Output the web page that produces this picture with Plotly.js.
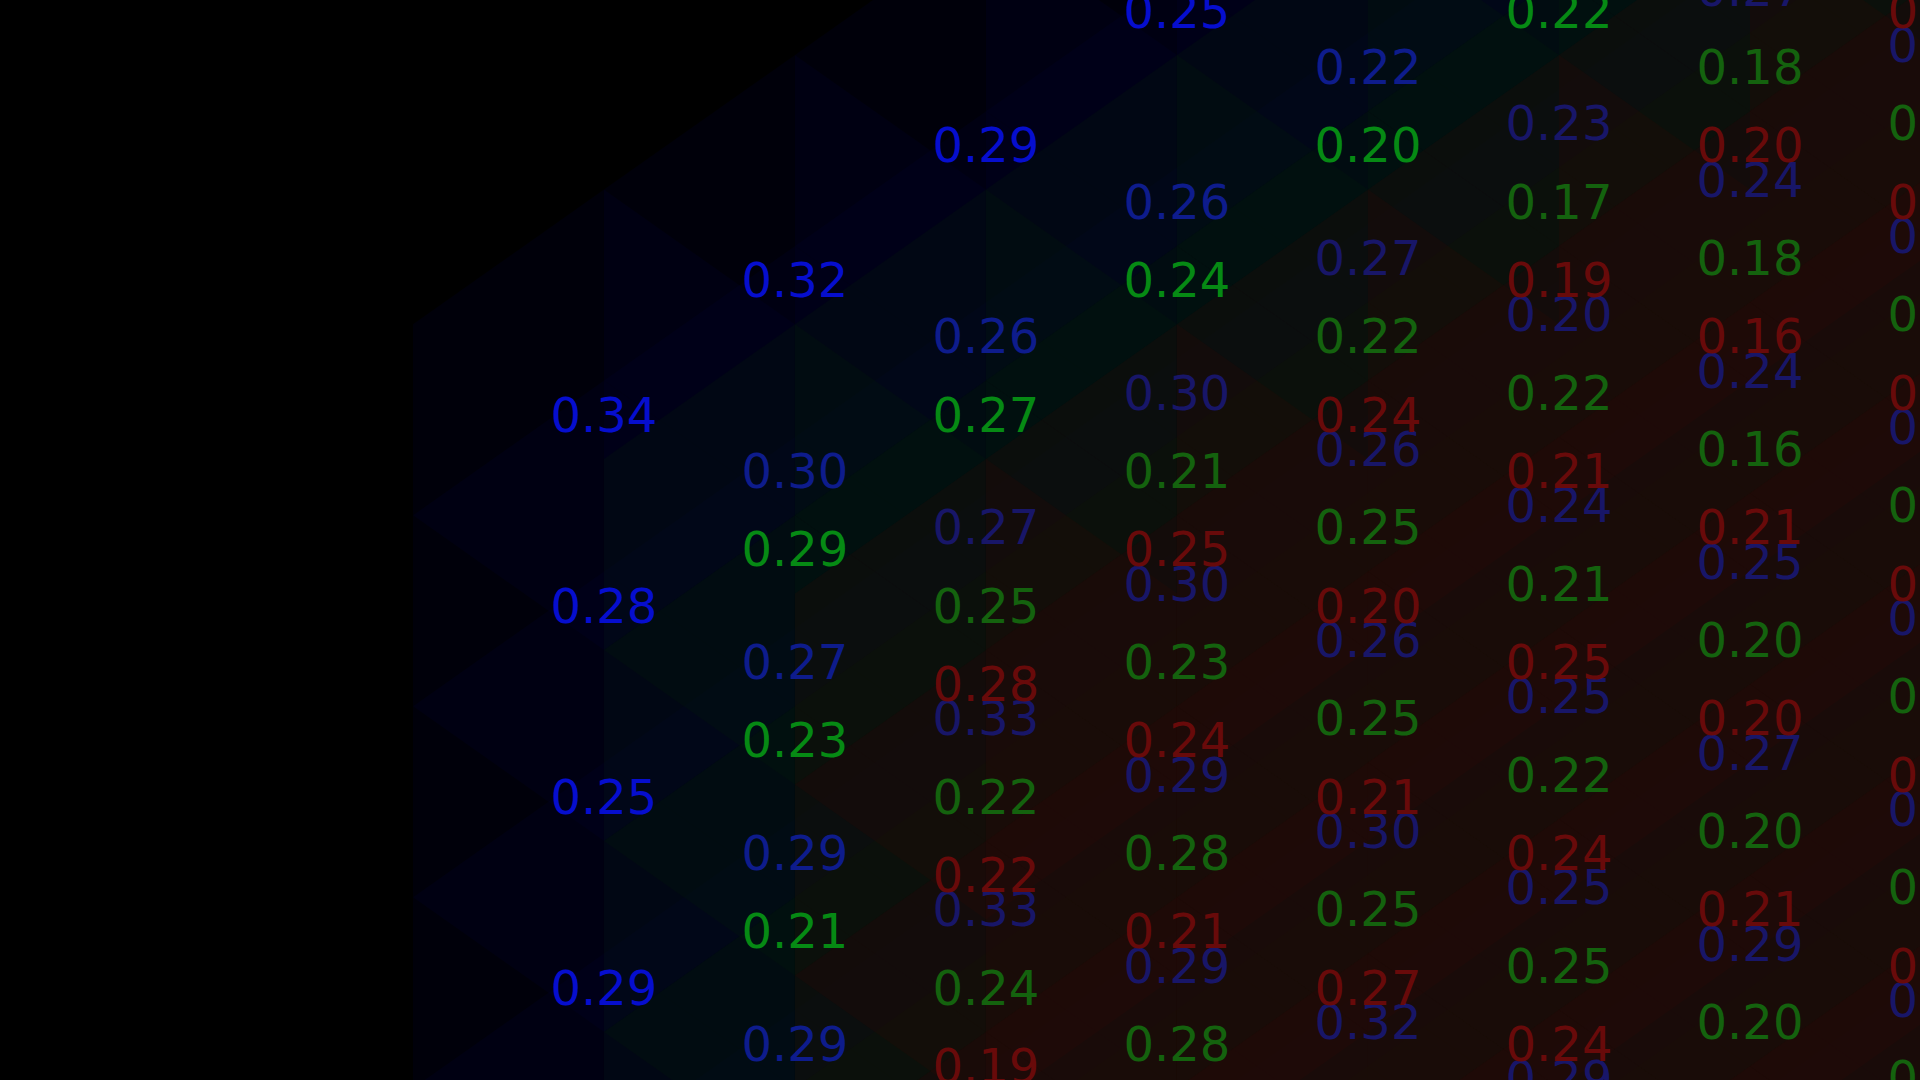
<!DOCTYPE html>
<html>
<head>
<meta charset="utf-8">
<script src="https://cdn.plot.ly/plotly-3.0.1.min.js"></script>
<style>
html, body { margin: 0; padding: 0; background: #000; overflow: hidden; }
#chart { width: 1920px; height: 1080px; }
</style>
</head>
<body>
<div id="chart"></div>
<script>
// ---- Data: values per layer, indexed [column][row]; null = cell not visible ----
const blueValues = [
  [0.34, 0.28, 0.25, 0.29],
  [0.32, 0.30, 0.27, 0.29, 0.29],
  [0.29, 0.26, 0.27, 0.33, 0.33],
  [0.25, 0.26, 0.30, 0.30, 0.29, 0.29],
  [null, 0.22, 0.27, 0.26, 0.26, 0.30, 0.32],
  [null, null, 0.23, 0.20, 0.24, 0.25, 0.25, 0.29],
  [null, null, 0.27, 0.24, 0.24, 0.25, 0.27, 0.29],
  [null, null, null, 0.26, 0.28, 0.27, 0.29, 0.30, 0.31]
];
const greenValues = [
  [0.29, 0.23, 0.21],
  [0.27, 0.25, 0.22, 0.24],
  [0.24, 0.21, 0.23, 0.28, 0.28],
  [0.20, 0.22, 0.25, 0.25, 0.25],
  [0.22, 0.17, 0.22, 0.21, 0.22, 0.25],
  [null, 0.18, 0.18, 0.16, 0.20, 0.20, 0.20],
  [null, null, 0.19, 0.18, 0.19, 0.20, 0.19, 0.20]
];
const redValues = [
  [0.28, 0.22, 0.19],
  [0.25, 0.24, 0.21],
  [0.24, 0.20, 0.21, 0.27],
  [0.19, 0.21, 0.25, 0.24, 0.24],
  [0.20, 0.16, 0.21, 0.20, 0.21],
  [0.21, 0.19, 0.20, 0.22, 0.21, 0.23]
];
const layerNames = ['blue', 'green', 'red'];

// ---- Styles ----
const layerTextColors = [
  ['rgb(6,14,206)', 'rgb(14,28,140)', 'rgb(24,22,104)'],
  ['rgb(6,138,20)', 'rgb(20,98,14)', 'rgb(20,98,14)'],
  ['rgb(104,10,10)', 'rgb(104,10,10)', 'rgb(104,10,10)']
];
const layerFill = ['rgba(0,2,48,0.2)', 'rgba(4,34,8,0.22)', 'rgba(48,10,6,0.22)'];
const gridCols = 11, gridRows = 13;

// oblique projection of (column, row, layer) lattice
const K = 110 / 156;
function project(c, r, d) { return [c + d, r - K * c + K * d]; }

const allLayers = [blueValues, greenValues, redValues];
const traces = allLayers.map((vals, d) => {
  const xs = [], ys = [], txt = [], cols = [];
  vals.forEach((col, c) => {
    col.forEach((v, r) => {
      if (v === null) return;
      const p = project(c, r, d);
      xs.push(p[0]); ys.push(p[1]);
      txt.push(v.toFixed(2));
      const lvl = Math.min(c, r, 2 - d);
      cols.push(layerTextColors[d][lvl]);
    });
  });
  return {
    type: 'scatter', mode: 'text', name: layerNames[d],
    x: xs, y: ys, text: txt, textposition: 'middle center',
    textfont: { family: 'DejaVu Sans', size: 48, color: cols },
    hoverinfo: 'skip', showlegend: false, cliponaxis: true
  };
});

// translucent cell silhouettes (hexagons) of the 3D block
const shapes = [];
const H = 0.5 + K;
for (let d = 0; d < 3; d++) {
  for (let c = 0; c < gridCols; c++) {
    for (let r = 0; r < gridRows; r++) {
      const p = project(c, r, d);
      if (p[0] > 8.2 || p[1] < -3.6 || p[1] > 4.8) continue;
      const X = p[0], Y = p[1];
      const path = `M${X},${Y - H} L${X + 1},${Y - 0.5} L${X + 1},${Y + 0.5} L${X},${Y + H} L${X - 1},${Y + 0.5} L${X - 1},${Y - 0.5} Z`;
      shapes.push({ type: 'path', path: path, xref: 'x', yref: 'y', layer: 'below',
        fillcolor: layerFill[d], line: { width: 0 } });
    }
  }
}

const yShift = 0.03;
const layout = {
  width: 1920, height: 1080,
  margin: { l: 0, r: 0, t: 0, b: 0, pad: 0 },
  paper_bgcolor: '#000', plot_bgcolor: '#000',
  xaxis: { range: [-3.162, 6.890], visible: false, showgrid: false, zeroline: false, fixedrange: true },
  yaxis: { range: [3.487 - yShift, -2.168 - yShift], visible: false, showgrid: false, zeroline: false, fixedrange: true },
  shapes: shapes,
  showlegend: false
};

Plotly.newPlot('chart', traces, layout, { displayModeBar: false, staticPlot: true });
</script>
</body>
</html>
